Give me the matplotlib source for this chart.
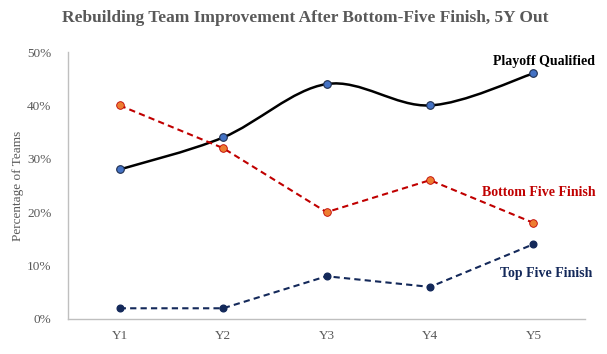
import numpy as np
import matplotlib.pyplot as plt
from matplotlib.path import Path
from matplotlib.patches import PathPatch

years = ['Y1', 'Y2', 'Y3', 'Y4', 'Y5']
playoff = [28, 34, 44, 40, 46]
bottom_five = [40, 32, 20, 26, 18]
top_five = [2, 2, 8, 6, 14]

plt.rcParams['font.family'] = ['Liberation Serif', 'DejaVu Serif']

GRAY = '#595959'
RED = '#c00000'
NAVY = '#14295a'


def smooth_path(xs, ys):
	# catmull-rom style curve through the points, like excel's smoothed line
	pts = np.column_stack([xs, ys]).astype(float)
	n = len(pts)
	verts = [pts[0]]
	codes = [Path.MOVETO]
	for i in range(n - 1):
		p0 = pts[i - 1] if i > 0 else pts[i]
		p1 = pts[i]
		p2 = pts[i + 1]
		p3 = pts[i + 2] if i + 2 < n else pts[i + 1]
		c1 = p1 + (p2 - p0) / 6
		c2 = p2 - (p3 - p1) / 6
		verts += [c1, c2, p2]
		codes += [Path.CURVE4] * 3
	return Path(verts, codes)


fig = plt.figure(figsize=(6.07, 3.54), dpi=100)
ax = fig.add_axes([0.112, 0.099, 0.852, 0.754])
x = np.arange(len(years))

ax.add_patch(PathPatch(smooth_path(x, playoff), fill=False, edgecolor='black', lw=1.8, zorder=3))
ax.plot(x, playoff, ls='none', marker='o', ms=5.5, mfc='#4472c4', mec='#1f2f4f', mew=0.8, zorder=4)

ax.plot(x, bottom_five, color=RED, ls=(0, (3, 2)), lw=1.5, marker='o', ms=5.5,
	mfc='#ed7d31', mec=RED, mew=0.6, zorder=3)
ax.plot(x, top_five, color=NAVY, ls=(0, (3, 2)), lw=1.5, marker='o', ms=4.8,
	mfc=NAVY, mec=NAVY, zorder=3)

ax.set_xlim(-0.5, len(years) - 0.5)
ax.set_ylim(0, 50)
ax.set_xticks(x)
ax.set_xticklabels(years)
ax.set_yticks(range(0, 51, 10))
ax.set_yticklabels(['%d%%' % v for v in range(0, 51, 10)])
ax.tick_params(length=0, colors=GRAY, labelsize=9.5, pad=8)
ax.tick_params(axis='y', pad=12)
for s in ['top', 'right']:
	ax.spines[s].set_visible(False)
for s in ['left', 'bottom']:
	ax.spines[s].set_color('#bfbfbf')
	ax.spines[s].set_linewidth(1)
ax.set_ylabel('Percentage of Teams', color=GRAY, fontsize=9.5, labelpad=2)

ax.text(4.6, 48.2, 'Playoff Qualified', fontsize=10, fontweight='bold', color='black', ha='right', va='center')
ax.text(4.6, 23.7, 'Bottom Five Finish', fontsize=10, fontweight='bold', color=RED, ha='right', va='center')
ax.text(4.57, 8.5, 'Top Five Finish', fontsize=10, fontweight='bold', color=NAVY, ha='right', va='center')

fig.text(0.503, 0.948, 'Rebuilding Team Improvement After Bottom-Five Finish, 5Y Out',
	ha='center', va='center', fontsize=12.5, fontweight='bold', color=GRAY)

fig.savefig('out.png', dpi=100)
